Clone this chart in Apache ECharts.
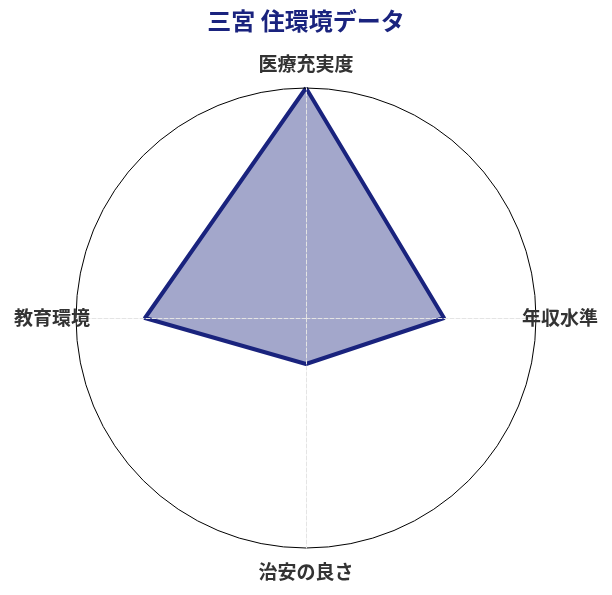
<!DOCTYPE html>
<html>
<head>
  <meta charset="utf-8">
  <title>三宮 住環境データ</title>
  <script src="https://cdn.jsdelivr.net/npm/echarts@6/dist/echarts.min.js"></script>
  <style>
    html, body { margin: 0; padding: 0; background: #fff; }
  </style>
</head>
<body>
  <div id="main" style="width:612px;height:595px;"></div>
  <script type="text/javascript">
    // 指標と値 (反時計回り: 上, 左, 下, 右)
    var indicatorNames = ['医療充実度', '教育環境', '治安の良さ', '年収水準'];
    var indicatorMax = [100, 100, 100, 100];
    var values = [100, 70, 20, 60];

    var myChart = echarts.init(document.getElementById('main'));

    var indicators = [];
    for (var i = 0; i < indicatorNames.length; i++) {
      indicators.push({ name: indicatorNames[i], max: indicatorMax[i] });
    }

    var option = {
      title: {
        text: '三宮 住環境データ',
        left: 'center',
        top: 4,
        textStyle: {
          color: '#1a237e',
          fontSize: 24,
          fontWeight: 'bold',
          fontFamily: 'Noto Sans CJK JP'
        }
      },
      radar: {
        center: [306, 318],
        radius: 230,
        shape: 'circle',
        splitNumber: 1,
        startAngle: 90,
        nameGap: 24,
        z: 3,
        indicator: indicators,
        axisName: {
          color: '#333',
          fontSize: 19,
          fontWeight: 'bold',
          fontFamily: 'Noto Sans CJK JP',
          align: 'center',
          verticalAlign: 'middle'
        },
        splitLine: {
          lineStyle: { color: '#000', width: 1 }
        },
        splitArea: { show: false },
        axisLine: {
          lineStyle: { color: '#e4e4e4', type: 'dashed', width: 1 }
        }
      },
      series: [{
        type: 'radar',
        symbol: 'none',
        z: 2,
        lineStyle: { color: '#1a237e', width: 4 },
        areaStyle: { color: '#1a237e', opacity: 0.4 },
        data: [{ value: values, name: '三宮' }]
      }]
    };

    myChart.setOption(option);
  </script>
</body>
</html>
